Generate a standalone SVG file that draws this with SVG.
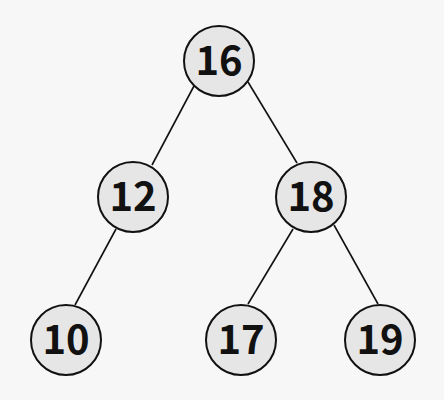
<svg xmlns="http://www.w3.org/2000/svg" width="444" height="400" viewBox="0 0 444 400">
<style>
.n circle{fill:#e6e6e6;stroke:#111;stroke-width:2}
.n text{font-family:"Noto Sans CJK SC","Noto Sans",sans-serif;font-weight:bold;font-size:40px;fill:#111;text-anchor:middle}
.e line{stroke:#111;stroke-width:1.6}
</style>
<rect width="444" height="400" fill="#f7f7f8"/>
<g id="edges" class="e">
<line x1="194" y1="86" x2="152" y2="165"/>
<line x1="248" y1="82" x2="297" y2="163"/>
<line x1="116" y1="229" x2="75" y2="305"/>
<line x1="293" y1="229" x2="248" y2="304"/>
<line x1="334" y1="225" x2="378" y2="304"/>
</g>
<g id="n16" class="n"><circle cx="219" cy="61" r="35"/><text x="219" y="75">16</text></g>
<g id="n12" class="n"><circle cx="133" cy="197" r="35"/><text x="133" y="211">12</text></g>
<g id="n18" class="n"><circle cx="311" cy="197" r="35"/><text x="311" y="211">18</text></g>
<g id="n10" class="n"><circle cx="66" cy="340" r="35"/><text x="66" y="354">10</text></g>
<g id="n17" class="n"><circle cx="241" cy="340" r="35"/><text x="241" y="354">17</text></g>
<g id="n19" class="n"><circle cx="380" cy="340" r="35"/><text x="380" y="354">19</text></g>
</svg>
